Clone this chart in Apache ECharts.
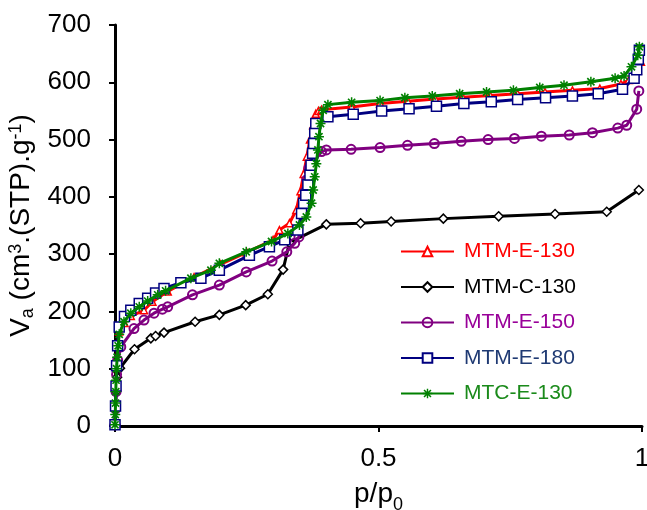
<!DOCTYPE html>
<html>
<head>
<meta charset="utf-8">
<script src="https://cdn.jsdelivr.net/npm/echarts@6/dist/echarts.min.js"></script>
<style>
html,body{margin:0;padding:0;background:#fff;}
#chart{width:647px;height:510px;}
</style>
</head>
<body>
<div id="chart"></div>
<script>
// Data (p/p0, Va)
var seriesNames = ['MTM-E-130', 'MTM-C-130', 'MTM-E-150', 'MTM-E-180', 'MTC-E-130'];

var pE130 = [0, 0.001, 0.002, 0.003, 0.005, 0.008, 0.018, 0.03, 0.055, 0.071, 0.1, 0.15, 0.2, 0.25, 0.3, 0.312, 0.331, 0.344, 0.352, 0.358, 0.364, 0.37, 0.376, 0.381, 0.386, 0.392, 0.449, 0.503, 0.556, 0.608, 0.66, 0.712, 0.764, 0.816, 0.868, 0.92, 0.96, 0.975, 0.992, 0.998];
var vE130 = [2, 40, 80, 110, 140, 165, 180, 192, 202, 217, 235, 260, 282, 303, 325, 342, 354, 377, 410, 440, 470, 500, 525, 545, 550, 552, 557, 563, 567, 571, 574, 577, 580, 583, 586, 589, 597, 604, 620, 636];

var pC130 = [0, 0.001, 0.002, 0.004, 0.0095, 0.037, 0.068, 0.077, 0.093, 0.152, 0.198, 0.248, 0.29, 0.319, 0.331, 0.401, 0.466, 0.524, 0.623, 0.728, 0.835, 0.933, 0.994];
var vC130 = [2, 30, 60, 85, 101, 134, 153, 157, 163, 182, 194, 211, 230, 273, 320, 352, 354, 357, 362, 366, 370, 374, 412];

var pE150 = [0, 0.001, 0.002, 0.003, 0.005, 0.011, 0.036, 0.055, 0.074, 0.09, 0.1, 0.147, 0.198, 0.249, 0.298, 0.326, 0.341, 0.349, 0.354, 0.358, 0.361, 0.364, 0.368, 0.392, 0.401, 0.448, 0.503, 0.555, 0.606, 0.657, 0.708, 0.758, 0.809, 0.862, 0.906, 0.954, 0.971, 0.99, 0.994];
var vE150 = [2, 30, 60, 90, 115, 138, 170, 185, 197, 204, 208, 229, 246, 269, 288, 304, 319, 330, 371, 391, 409, 430, 450, 479, 482, 483, 486, 490, 493, 497, 500, 502, 506, 508, 512, 520, 525, 553, 585];

var pE180 = [0, 0.001, 0.002, 0.003, 0.005, 0.008, 0.018, 0.03, 0.046, 0.062, 0.077, 0.093, 0.125, 0.163, 0.198, 0.255, 0.293, 0.322, 0.347, 0.354, 0.358, 0.362, 0.366, 0.37, 0.372, 0.375, 0.377, 0.379, 0.381, 0.404, 0.452, 0.506, 0.558, 0.61, 0.662, 0.714, 0.764, 0.817, 0.868, 0.917, 0.963, 0.985, 0.99, 0.993, 0.995];
var vE180 = [2, 35, 70, 105, 140, 173, 191, 202, 214, 223, 232, 240, 250, 258, 272, 298, 313, 325, 342, 371, 389, 403, 421, 438, 455, 476, 493, 511, 528, 540, 544, 550, 554, 558, 563, 566, 570, 573, 576, 580, 588, 607, 622, 640, 656];

var pTC130 = [0, 0.0005, 0.001, 0.0015, 0.002, 0.003, 0.004, 0.006, 0.008, 0.017, 0.03, 0.046, 0.062, 0.081, 0.096, 0.144, 0.182, 0.198, 0.249, 0.297, 0.328, 0.35, 0.363, 0.373, 0.376, 0.379, 0.382, 0.385, 0.387, 0.39, 0.395, 0.404, 0.449, 0.503, 0.55, 0.602, 0.654, 0.705, 0.756, 0.806, 0.852, 0.903, 0.949, 0.966, 0.98, 0.992, 0.995];
var vTC130 = [2, 20, 40, 60, 80, 100, 120, 140, 160, 182, 197, 208, 218, 229, 236, 258, 272, 284, 304, 322, 336, 351, 365, 389, 412, 435, 458, 482, 505, 528, 551, 561, 565, 568, 573, 576, 580, 583, 586, 591, 595, 601, 607, 611, 627, 647, 662];

var xTicks = [0, 0.5, 1];
var yTicks = [0, 100, 200, 300, 400, 500, 600, 700];

function pairs(p, v) { return p.map(function (x, i) { return [x, v[i]]; }); }

var FONT = 'Liberation Sans, Arial, sans-serif';
var asterisk = 'path://M-0.9,-6 L0.9,-6 L0.9,6 L-0.9,6 Z M-5,-3.6 L-3.6,-5 L5,3.6 L3.6,5 Z M3.6,-5 L5,-3.6 L-3.6,5 L-5,3.6 Z M-6,-0.9 L6,-0.9 L6,0.9 L-6,0.9 Z';

var styles = [
  {color: '#FF0000', symbol: 'triangle', size: 7, fill: '#FFFFFF', bw: 1.5, text: '#FF0000'},
  {color: '#000000', symbol: 'diamond', size: 9, fill: '#FFFFFF', bw: 1.5, text: '#000000'},
  {color: '#800080', symbol: 'circle', size: 9, fill: 'rgba(0,0,0,0)', bw: 2, text: '#990099'},
  {color: '#000080', symbol: 'rect', size: 10, fill: '#FFFFFF', bw: 1.5, text: '#1F3A73'},
  {color: '#008000', symbol: asterisk, size: 10, fill: '#008000', bw: 0, text: '#1A8A1A'}
];
var dataSets = [pairs(pE130, vE130), pairs(pC130, vC130), pairs(pE150, vE150), pairs(pE180, vE180), pairs(pTC130, vTC130)];

var series = seriesNames.map(function (name, i) {
  var s = styles[i];
  return {
    name: name,
    type: 'line',
    data: dataSets[i],
    symbol: s.symbol,
    symbolSize: s.size,
    showAllSymbol: true,
    smooth: false,
    z: 2 + i,
    lineStyle: {color: s.color, width: 3},
    itemStyle: {color: s.fill, borderColor: s.color, borderWidth: s.bw},
    emphasis: {disabled: true},
    animation: false
  };
});

var chart = echarts.init(document.getElementById('chart'), null, {renderer: 'canvas'});
chart.setOption({
  backgroundColor: '#FFFFFF',
  animation: false,
  grid: {left: 115, right: 5, top: 25, bottom: 84, containLabel: false, outerBoundsMode: 'none'},
  legend: {
    orient: 'vertical',
    left: 395,
    top: 230,
    itemWidth: 53,
    itemHeight: 12,
    itemGap: 2.5,
    textStyle: {fontFamily: FONT, fontSize: 21, lineHeight: 21, padding: [0, 0, 12, 5]},
    data: seriesNames.map(function (n, i) { return {name: n, textStyle: {color: styles[i].text}}; })
  },
  xAxis: {
    type: 'value',
    min: 0, max: 1, interval: 0.5,
    name: '{n|p/p}{sub|0}',
    nameLocation: 'middle',
    nameGap: 54,
    nameTextStyle: {
      rich: {
        n: {fontFamily: FONT, fontSize: 28, color: '#000', lineHeight: 30, verticalAlign: 'top'},
        sub: {fontFamily: FONT, fontSize: 18, color: '#000', lineHeight: 18, verticalAlign: 'bottom', padding: [0, 0, -4, 0]}
      }
    },
    axisLine: {show: true, onZero: false, lineStyle: {color: '#000', width: 3}},
    axisTick: {show: true, inside: false, length: 6, lineStyle: {color: '#000', width: 2}},
    axisLabel: {fontFamily: FONT, fontSize: 26, color: '#000', margin: 20,
      formatter: function (v) { return xTicks.indexOf(v) >= 0 ? String(v) : ''; }},
    splitLine: {show: false}
  },
  yAxis: {
    type: 'value',
    min: 0, max: 700, interval: 100,
    name: '{n|V}{sub|a}{n| (cm}{sup|3}{n|.(STP).g}{sup|-1}{n|)}',
    nameLocation: 'middle',
    nameRotate: 90,
    nameGap: 78,
    nameTextStyle: {
      rich: {
        n: {fontFamily: FONT, fontSize: 28, color: '#000', lineHeight: 30},
        sup: {fontFamily: FONT, fontSize: 18, color: '#000', lineHeight: 18, verticalAlign: 'top'},
        sub: {fontFamily: FONT, fontSize: 18, color: '#000', lineHeight: 18, verticalAlign: 'bottom'}
      }
    },
    axisLine: {show: true, lineStyle: {color: '#000', width: 3}},
    axisTick: {show: true, inside: false, length: 6, lineStyle: {color: '#000', width: 2}},
    axisLabel: {fontFamily: FONT, fontSize: 26, color: '#000', margin: 24,
      formatter: function (v) { return yTicks.indexOf(v) >= 0 ? String(v) : ''; }},
    splitLine: {show: false}
  },
  series: series
});
</script>
</body>
</html>
